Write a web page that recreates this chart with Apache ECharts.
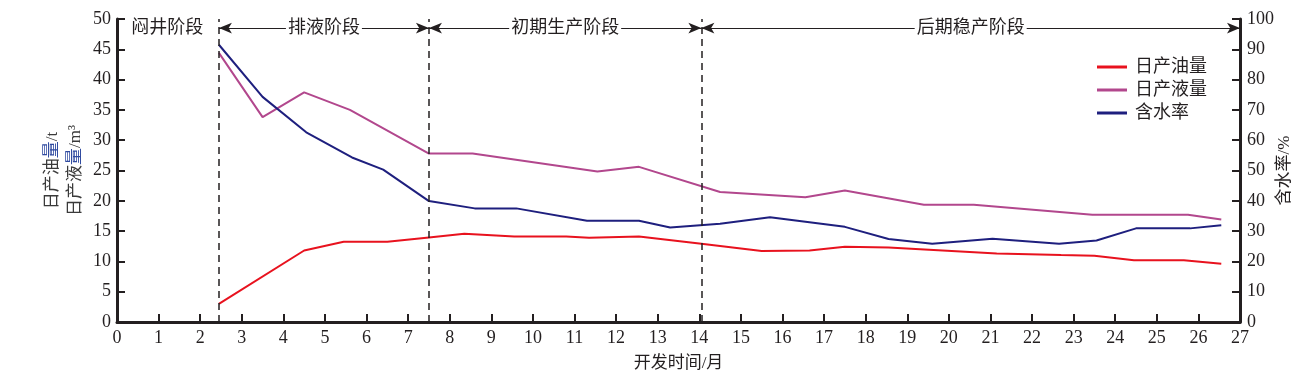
<!DOCTYPE html>
<html>
<head>
<meta charset="utf-8">
<script src="https://cdn.jsdelivr.net/npm/echarts@6/dist/echarts.min.js"></script>
<style>
html,body{margin:0;padding:0;background:#fff;}
#c{width:1314px;height:379px;}
</style>
</head>
<body>
<div id="c"></div>
<script>
// ---- data ----
var oilX = [2.45, 4.5, 5.45, 6.5, 7.5, 8.35, 9.55, 10.8, 11.35, 12.55, 14.05, 15.5, 16.65, 17.5, 18.55, 21.15, 22.7, 23.5, 24.45, 25.65, 26.55];
var oilY = [3.0, 11.8, 13.25, 13.25, 13.95, 14.55, 14.1, 14.1, 13.9, 14.1, 12.9, 11.7, 11.8, 12.4, 12.3, 11.3, 11.05, 10.95, 10.2, 10.2, 9.6];
var liquidX = [2.45, 3.5, 4.5, 5.6, 7.5, 8.55, 11.55, 12.55, 14.5, 16.55, 17.5, 19.4, 20.6, 23.45, 25.75, 26.55];
var liquidY = [44.4, 33.8, 37.9, 35.0, 27.8, 27.8, 24.85, 25.6, 21.45, 20.6, 21.7, 19.35, 19.35, 17.7, 17.7, 16.9];
var waterX = [2.45, 3.5, 4.55, 5.65, 6.4, 7.5, 8.6, 9.6, 11.3, 12.55, 13.3, 14.5, 15.7, 17.5, 18.55, 19.6, 21.05, 22.65, 23.55, 24.5, 25.8, 26.55];
var waterY = [91.5, 74.3, 62.6, 54.3, 50.3, 39.9, 37.5, 37.5, 33.4, 33.4, 31.2, 32.4, 34.6, 31.4, 27.4, 25.8, 27.5, 25.8, 26.9, 30.9, 30.9, 31.9];
var seriesNames = ['日产油量', '日产液量', '含水率'];
var stageBounds = [2.45, 7.5, 14.05, 27];
var stageNames = ['排液阶段', '初期生产阶段', '后期稳产阶段'];
var firstStageName = '闷井阶段';
var firstStageX = 1.21;
var stageY = 48.5;
var xTicks = {min: 0, max: 27, interval: 1};
var yLeftTicks = {min: 0, max: 50, interval: 5};
var yRightTicks = {min: 0, max: 100, interval: 10};

function pairs(xs, ys){ return xs.map(function(x,i){ return [x, ys[i]]; }); }

var INK = '#231f20';
var SERIF = "'Liberation Serif','Noto Sans CJK SC',serif";

var arrowData = stageNames.map(function(n, i){
  return [{coord:[stageBounds[i], stageY], name: n}, {coord:[stageBounds[i+1], stageY]}];
});
var vlineData = stageBounds.slice(0,3).map(function(v){ return {xAxis: v}; });

var chart = echarts.init(document.getElementById('c'), null, {renderer:'canvas'});
chart.setOption({
  animation: false,
  backgroundColor: '#fff',
  textStyle: {fontFamily: SERIF, color: INK},
  grid: {left: 117, right: 74, top: 19, bottom: 57},
  legend: {
    orient: 'vertical', left: 1092, top: 53, itemWidth: 30, itemHeight: 3, itemGap: 5,
    icon: 'rect',
    textStyle: {fontFamily: SERIF, fontSize: 18, color: INK, padding: [0,0,0,3]},
    data: seriesNames
  },
  xAxis: {
    type: 'value', min: xTicks.min, max: xTicks.max, interval: xTicks.interval,
    name: '开发时间/月', nameLocation: 'middle', nameGap: 33,
    nameTextStyle: {fontFamily: SERIF, fontSize: 17, color: INK},
    axisLine: {show: true, lineStyle: {color: INK, width: 3}},
    axisTick: {show: true, inside: true, length: 8, lineStyle: {color: INK, width: 2}},
    axisLabel: {fontFamily: SERIF, fontSize: 18, color: INK, margin: 7},
    splitLine: {show: false}
  },
  yAxis: [{
    type: 'value', min: yLeftTicks.min, max: yLeftTicks.max, interval: yLeftTicks.interval,
    name: '{a|日产油}{b|量}{a|/t}\n{a|日产液}{b|量}{a|/m³}', nameLocation: 'middle', nameGap: 30, nameRotate: 90,
    nameMoveOverlap: false,
    nameTextStyle: {fontFamily: SERIF, fontSize: 17, color: '#3a3a3a', lineHeight: 23,
      rich: {
        a: {fontFamily: SERIF, fontSize: 17, color: '#3a3a3a', lineHeight: 23},
        b: {fontFamily: SERIF, fontSize: 17, color: '#2f4aa0', lineHeight: 23}
      }},
    axisLine: {show: true, lineStyle: {color: INK, width: 3}},
    axisTick: {show: true, inside: true, length: 8, lineStyle: {color: INK, width: 2}},
    axisLabel: {fontFamily: SERIF, fontSize: 18, color: INK, margin: 6},
    splitLine: {show: false}
  }, {
    type: 'value', min: yRightTicks.min, max: yRightTicks.max, interval: yRightTicks.interval,
    position: 'right',
    name: '含水率/%', nameLocation: 'middle', nameGap: 36, nameRotate: 90,
    nameMoveOverlap: false,
    nameTextStyle: {fontFamily: SERIF, fontSize: 17, color: INK},
    axisLine: {show: true, lineStyle: {color: INK, width: 3}},
    axisTick: {show: true, inside: true, length: 8, lineStyle: {color: INK, width: 2}},
    axisLabel: {fontFamily: SERIF, fontSize: 18, color: INK, margin: 7},
    splitLine: {show: false}
  }],
  series: [{
    name: seriesNames[0], type: 'line', yAxisIndex: 0, symbol: 'none',
    data: pairs(oilX, oilY),
    lineStyle: {color: '#e8121e', width: 2}, itemStyle: {color: '#e8121e'},
    markLine: {
      silent: true, symbol: ['arrow', 'arrow'], symbolSize: [8, 13],
      lineStyle: {color: INK, width: 1, type: 'solid'},
      label: {show: true, position: 'middle', formatter: '{b}', fontFamily: SERIF, fontSize: 18,
        color: INK, backgroundColor: '#fff', padding: [0, 2], distance: 0, verticalAlign: 'middle'},
      emphasis: {disabled: true},
      data: arrowData
    },
    markPoint: {
      silent: true, symbol: 'circle', symbolSize: 0,
      label: {show: true, position: 'inside', formatter: firstStageName, fontFamily: SERIF, fontSize: 18, color: INK},
      data: [{coord: [firstStageX, stageY], value: 0}]
    }
  }, {
    name: seriesNames[1], type: 'line', yAxisIndex: 0, symbol: 'none',
    data: pairs(liquidX, liquidY),
    lineStyle: {color: '#b2478d', width: 2}, itemStyle: {color: '#b2478d'},
    markLine: {
      silent: true, symbol: ['none', 'none'],
      lineStyle: {color: INK, width: 1.5, type: [7, 5]},
      label: {show: false},
      emphasis: {disabled: true},
      data: vlineData
    }
  }, {
    name: seriesNames[2], type: 'line', yAxisIndex: 1, symbol: 'none',
    data: pairs(waterX, waterY),
    lineStyle: {color: '#1e1f7e', width: 2}, itemStyle: {color: '#1e1f7e'}
  }]
});
</script>
</body>
</html>
